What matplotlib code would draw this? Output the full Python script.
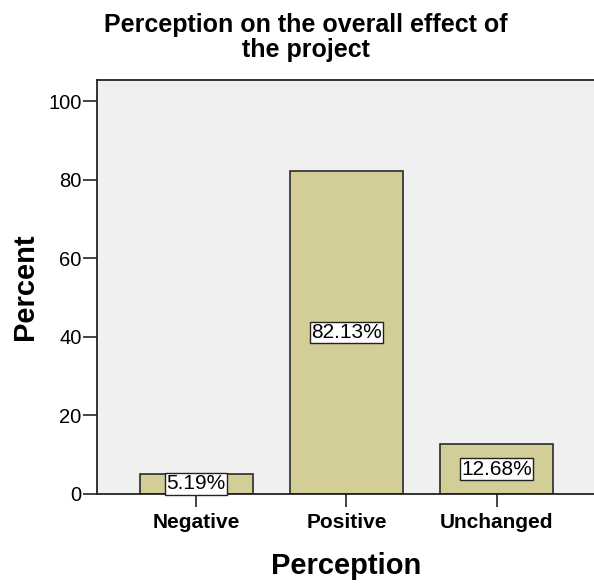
import matplotlib
matplotlib.use('Agg')
import matplotlib.pyplot as plt

categories = ['Negative', 'Positive', 'Unchanged']
percents = [5.19, 82.13, 12.68]
y_ticks = [0, 20, 40, 60, 80, 100]

plt.rcParams['font.family'] = ['Liberation Sans', 'DejaVu Sans']

fig = plt.figure(figsize=(5.94, 5.86), dpi=100)
ax = fig.add_axes([0.1633, 0.157, 0.84, 0.7065])
ax.set_facecolor('#f0f0f0')

x = list(range(len(categories)))
ax.bar(x, percents, width=0.75, color='#d3ce97', edgecolor='#2b2b2b', linewidth=1.2, zorder=2)

# etiqueta de porcentaje a media altura de cada barra
for xi, p in zip(x, percents):
    ax.text(xi, p / 2, f'{p:.2f}%', ha='center', va='center', fontsize=15,
            bbox=dict(boxstyle='square,pad=0.06', facecolor='white', edgecolor='#222222', linewidth=1),
            zorder=3)

ax.set_xlim(-0.66, 2.66)
ax.set_ylim(0, 105.4)
ax.set_xticks(x)
ax.set_xticklabels(categories, fontsize=15, fontweight='bold')
ax.set_yticks(y_ticks)
ax.set_yticklabels([str(t) for t in y_ticks], fontsize=14.5)
ax.tick_params(axis='y', direction='out', length=10, width=1.2, color='#222222', pad=1)
ax.tick_params(axis='x', direction='out', length=9, width=1.2, color='#222222', pad=5)

for side in ['left', 'bottom', 'top']:
    ax.spines[side].set_linewidth(1.3)
    ax.spines[side].set_color('#222222')
ax.spines['right'].set_visible(False)

ax.set_xlabel('Perception', fontsize=21, fontweight='bold', labelpad=14)
ax.set_ylabel('Percent', fontsize=21, fontweight='bold', labelpad=7)
fig.suptitle('Perception on the overall effect of\nthe project', x=0.515, y=0.978,
             fontsize=18, fontweight='bold', linespacing=1.05)

fig.savefig('out.png', dpi=100, facecolor='white')
